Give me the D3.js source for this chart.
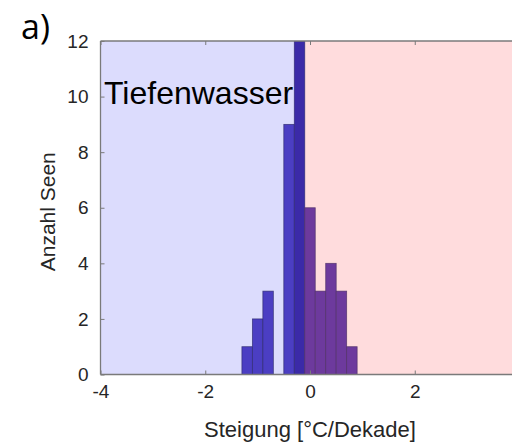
<!DOCTYPE html>
<html><head><meta charset="utf-8">
<script src="https://cdn.jsdelivr.net/npm/d3@7"></script>
<style>html,body{margin:0;padding:0;background:#fff;overflow:hidden}</style>
</head><body>
<script>
const binStarts = [-1.3,-1.1,-0.9,-0.7,-0.5,-0.3,-0.1,0.1,0.3,0.5,0.7];
const binWidth = 0.2;
const counts = [1,2,3,0,9,12,6,3,4,3,1];
const xTicks = [-4,-2,0,2,4];
const xTickLabels = ["-4","-2","0","2",""];
const yTicks = [0,2,4,6,8,10,12];
const boundary = -0.1;

const W=512,H=443;
const svg=d3.select("body").append("svg").attr("width",W).attr("height",H);
const L=100.5, R=519.5, T=41, B=374.5;
const x=d3.scaleLinear().domain([-4,4]).range([L,R]);
const y=d3.scaleLinear().domain([0,12]).range([B,T]);
const font="'Liberation Sans', Arial, sans-serif";

svg.append("defs").append("clipPath").attr("id","c").append("rect")
  .attr("x",L).attr("y",T).attr("width",R-L).attr("height",B-T);
const g=svg.append("g").attr("clip-path","url(#c)");
g.append("rect").attr("x",x(-4)).attr("y",T).attr("width",x(boundary)-x(-4)).attr("height",B-T).attr("fill","#dcdcfd");
g.append("rect").attr("x",x(boundary)).attr("y",T).attr("width",x(4)-x(boundary)).attr("height",B-T).attr("fill","#ffdcdd");

// label box
g.append("rect").attr("x",103).attr("y",74).attr("width",190).attr("height",44).attr("fill","#dcdcfd");

const bars=binStarts.map((s,i)=>({s,c:counts[i]})).filter(d=>d.c>0);
g.selectAll(".bar").data(bars).enter().append("rect")
  .attr("x",d=>x(d.s)).attr("width",d=>x(d.s+binWidth)-x(d.s))
  .attr("y",d=>y(d.c)).attr("height",d=>y(0)-y(d.c))
  .attr("fill",d=> d.s>=boundary-1e-9 ? "#6d3a9d" : (Math.abs(d.s+binWidth-boundary)<1e-9 ? "#3b2aa8" : "#4b3ec3"))
  .attr("stroke",d=> d.s>=boundary-1e-9 ? "#4e2f66" : "#2e2b6e").attr("stroke-width",0.8).attr("stroke-opacity",0.8);

g.append("text").attr("x",104).attr("y",104).attr("font-family",font).attr("font-size",32).attr("fill","#000").text("Tiefenwasser");

// frame
const frame="#7a7a7a";
svg.append("line").attr("x1",L).attr("x2",L).attr("y1",T).attr("y2",B).attr("stroke",frame).attr("stroke-width",1.3);
svg.append("line").attr("x1",L).attr("x2",R).attr("y1",B).attr("y2",B).attr("stroke",frame).attr("stroke-width",1.3);
svg.append("line").attr("x1",L).attr("x2",R).attr("y1",T).attr("y2",T).attr("stroke",frame).attr("stroke-width",1.3);

// ticks
const xa=svg.append("g").attr("transform",`translate(0,${B})`).call(d3.axisBottom(x).tickValues(xTicks).tickSizeInner(-4).tickSizeOuter(0).tickPadding(10).tickFormat((d,i)=>xTickLabels[i]));
xa.select(".domain").remove();
xa.selectAll("line").attr("stroke",frame);
xa.selectAll("text").attr("font-family",font).attr("font-size",19).attr("fill","#262626");
const xt=svg.append("g").attr("transform",`translate(0,${T})`).call(d3.axisTop(x).tickValues(xTicks).tickSizeInner(-4).tickSizeOuter(0).tickFormat(""));
xt.select(".domain").remove(); xt.selectAll("line").attr("stroke",frame);
const ya=svg.append("g").attr("transform",`translate(${L},0)`).call(d3.axisLeft(y).tickValues(yTicks).tickSizeInner(-4).tickSizeOuter(0).tickPadding(12).tickFormat(d=>String(d)));
ya.select(".domain").remove();
ya.selectAll("line").attr("stroke",frame);
ya.selectAll("text").attr("font-family",font).attr("font-size",19).attr("fill","#262626");

svg.append("text").attr("x",x(0)).attr("y",437).attr("text-anchor","middle").attr("font-family",font).attr("font-size",22).attr("fill","#262626").text("Steigung [°C/Dekade]");
svg.append("text").attr("transform",`translate(55,${(T+B)/2+4}) rotate(-90)`).attr("text-anchor","middle").attr("font-family",font).attr("font-size",21).attr("fill","#262626").text("Anzahl Seen");
svg.append("text").attr("x",21).attr("y",39).attr("font-family","'Open Sans', 'DejaVu Sans', sans-serif").attr("font-size",34).attr("fill","#000").text("a)");
</script>
</body></html>
